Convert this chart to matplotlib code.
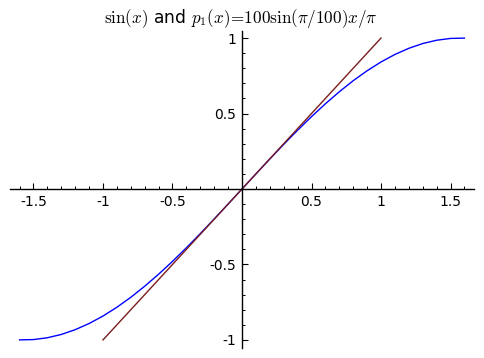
import matplotlib
matplotlib.use("Agg")
import matplotlib.pyplot as plt
from matplotlib.ticker import MultipleLocator, FuncFormatter

plt.rcParams['mathtext.fontset'] = 'cm'

# sin(x) curve samples
x_sin = [-1.6, -1.5, -1.4, -1.3, -1.2, -1.1, -1.0, -0.9, -0.8, -0.7, -0.6, -0.5,
         -0.4, -0.3, -0.2, -0.1, 0.0, 0.1, 0.2, 0.3, 0.4, 0.5, 0.6, 0.7, 0.8,
         0.9, 1.0, 1.1, 1.2, 1.3, 1.4, 1.5, 1.6]
y_sin = [-0.9996, -0.9975, -0.9854, -0.9636, -0.9320, -0.8912, -0.8415, -0.7833,
         -0.7174, -0.6442, -0.5646, -0.4794, -0.3894, -0.2955, -0.1987, -0.0998,
         0.0, 0.0998, 0.1987, 0.2955, 0.3894, 0.4794, 0.5646, 0.6442, 0.7174,
         0.7833, 0.8415, 0.8912, 0.9320, 0.9636, 0.9854, 0.9975, 0.9996]

# p1(x) line
x_p1 = [-1.0, 1.0]
y_p1 = [-0.9998, 0.9998]

x_ticks = [-1.5, -1.0, -0.5, 0.5, 1.0, 1.5]
y_ticks = [-1.0, -0.5, 0.5, 1.0]

fig = plt.figure(figsize=(4.84, 3.58), dpi=100)
ax = fig.add_axes([10/484, 10.5/358, 464/484, 317/358])

ax.plot(x_sin, y_sin, color='#0000ff', lw=1.0)
ax.plot(x_p1, y_p1, color='#7a1e1e', lw=1.0)

ax.set_xlim(-1.669, 1.669)
ax.set_ylim(-1.05, 1.05)

for s in ['top', 'right']:
    ax.spines[s].set_visible(False)
ax.spines['left'].set_position(('data', 0))
ax.spines['bottom'].set_position(('data', 0))
ax.spines['left'].set_linewidth(1.0)
ax.spines['bottom'].set_linewidth(1.0)

def fmt(v, pos):
    s = ('%g' % v)
    return s

ax.set_xticks(x_ticks)
ax.set_yticks(y_ticks)
ax.xaxis.set_major_formatter(FuncFormatter(fmt))
ax.yaxis.set_major_formatter(FuncFormatter(fmt))
ax.xaxis.set_minor_locator(MultipleLocator(0.1))
ax.yaxis.set_minor_locator(MultipleLocator(0.1))
ax.tick_params(axis='both', which='major', direction='in', length=4, width=0.8,
               labelsize=10, pad=4)
ax.tick_params(axis='both', which='minor', direction='in', length=2.5, width=0.7)
ax.patch.set_alpha(0)

fig.text(241/484, 1 - 18/358, r"$\sin(x)$ and $p_1(x)\!=\!100\sin(\pi/100)x/\pi$",
         ha='center', va='center', fontsize=12.3)

fig.savefig('out.png', dpi=100)
